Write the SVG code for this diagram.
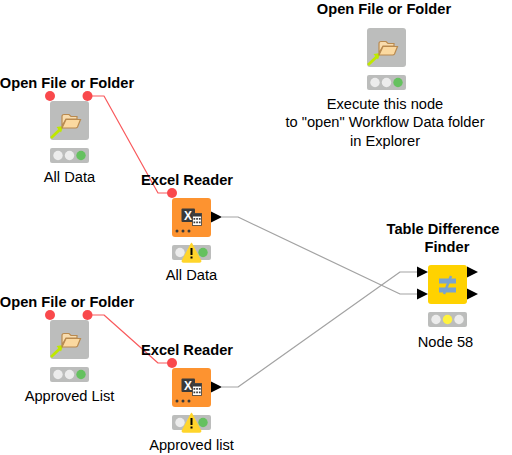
<svg xmlns="http://www.w3.org/2000/svg" xmlns:xlink="http://www.w3.org/1999/xlink" width="512" height="455" viewBox="0 0 512 455">
<style>
text{font-family:"Liberation Sans",Arial,sans-serif;font-size:14.67px;fill:#000;text-anchor:middle}
.t{font-weight:bold}
.gray{fill:#bcbdbc}
.orange{fill:#fd9330}
.yellow{fill:#ffd200}
.tl{fill:#bcbdbc}
.off{fill:#ececec}
.green{fill:#65c15f}
.on{fill:#fff23e}
.port{fill:#000}
.flow{fill:#f9494c}
.wire{fill:none;stroke-width:1.2;stroke-linejoin:round}
.red{stroke:#f9595c}
.grey{stroke:#a3a3a3}
</style>
<defs>
<g id="folder">
<path d="M1 37L10 28.500" stroke="#bfe800" stroke-width="2.800" fill="none"/>
<path d="M13.500 25L6.500 26L11 31.500Z" fill="#bfe800"/>
<path d="M12 25V15.500Q12 13.500 14 13.500H19L21 15.500H27V18H16Z" fill="#f8dcae" stroke="#b98a4f" stroke-width="1.200"/>
<path d="M12 27L16 18.500H30.500L27.500 26Q27 27 25.500 27Z" fill="#fbd9a0" stroke="#b98a4f" stroke-width="1.200"/>
</g>
<g id="excel">
<rect x="9.500" y="10.500" width="13.500" height="13.500" rx="1" fill="#3a3a3a"/>
<text x="16" y="22" style="font-size:12px;font-weight:bold;fill:#fff">X</text>
<rect x="20.500" y="15.500" width="9" height="12" fill="#fff" stroke="#3a3a3a" stroke-width="0.800"/>
<rect x="20.500" y="15.500" width="9" height="3" fill="#3a3a3a"/>
<path d="M21.500 20h1.700v1.700h-1.700zM24.200 20h1.700v1.700h-1.700zM26.900 20h1.700v1.700h-1.700zM21.500 23.500h1.700v1.700h-1.700zM24.200 23.500h1.700v1.700h-1.700zM26.900 23.500h1.700v1.700h-1.700z" fill="#3a3a3a"/>
<circle cx="5" cy="33" r="1.500" fill="#3a3a3a"/><circle cx="11" cy="33" r="1.500" fill="#3a3a3a"/><circle cx="17" cy="33" r="1.500" fill="#3a3a3a"/>
</g>
<g id="tlg">
<rect class="tl" width="39" height="15" rx="2"/>
<circle class="off" cx="8" cy="7.500" r="4.700"/><circle class="off" cx="19.500" cy="7.500" r="4.700"/><circle class="green" cx="31" cy="7.500" r="4.700"/>
</g>
<g id="warn">
<path d="M12.500 -1.500L21.500 15.500Q22 17 20.500 17H4.500Q3 17 3.500 15.500Z" fill="#ffd52b" stroke="#ffd52b" stroke-width="1.500" stroke-linejoin="round"/>
<rect x="11.500" y="3" width="2" height="7" fill="#000"/><rect x="11.500" y="11.500" width="2" height="2" fill="#000"/>
</g>
</defs>
<g id="connectors">
<path class="wire red" d="M88 96H104L158 193H172"/>
<path class="wire red" d="M88 315H104L158 363H172"/>
<path class="wire grey" d="M222 217H238L400 294H417"/>
<path class="wire grey" d="M222 387H238L400 272H417"/>
</g>
<g id="node-open-top">
<text class="t" x="384" y="14">Open File or Folder</text>
<rect class="gray" x="367" y="28" width="39" height="39" rx="3"/>
<use xlink:href="#folder" x="367" y="28"/>
<use xlink:href="#tlg" x="367" y="75"/>
<text x="385" y="109">Execute this node</text>
<text x="385" y="127">to "open" Workflow Data folder</text>
<text x="385" y="146">in Explorer</text>
</g>
<g id="node-open-all">
<text class="t" x="67" y="88">Open File or Folder</text>
<circle class="flow" cx="50" cy="96" r="5"/><circle class="flow" cx="87.500" cy="96" r="5"/>
<rect class="gray" x="50" y="101" width="39" height="39" rx="3"/>
<use xlink:href="#folder" x="50" y="101"/>
<use xlink:href="#tlg" x="50" y="148"/>
<text x="69.500" y="182">All Data</text>
</g>
<g id="node-open-approved">
<text class="t" x="67" y="307">Open File or Folder</text>
<circle class="flow" cx="50" cy="315" r="5"/><circle class="flow" cx="87.500" cy="315" r="5"/>
<rect class="gray" x="50" y="320" width="39" height="39" rx="3"/>
<use xlink:href="#folder" x="50" y="320"/>
<use xlink:href="#tlg" x="50" y="367"/>
<text x="69.500" y="401">Approved List</text>
</g>
<g id="node-excel-all">
<text class="t" x="187" y="185">Excel Reader</text>
<circle class="flow" cx="172" cy="193" r="5"/>
<rect class="orange" x="172" y="198" width="39" height="39" rx="3"/>
<use xlink:href="#excel" x="172" y="198"/>
<path class="port" d="M211 211.500L222 217L211 222.500Z"/>
<use xlink:href="#tlg" x="172" y="245"/>
<use xlink:href="#warn" x="179" y="245"/>
<text x="191.500" y="280">All Data</text>
</g>
<g id="node-excel-approved">
<text class="t" x="187" y="355">Excel Reader</text>
<circle class="flow" cx="172" cy="363" r="5"/>
<rect class="orange" x="172" y="368" width="39" height="39" rx="3"/>
<use xlink:href="#excel" x="172" y="368"/>
<path class="port" d="M211 381.500L222 387L211 392.500Z"/>
<use xlink:href="#tlg" x="172" y="415"/>
<use xlink:href="#warn" x="179" y="415"/>
<text x="191.500" y="450">Approved list</text>
</g>
<g id="node-diff">
<text class="t" x="443" y="234">Table Difference</text>
<text class="t" x="447" y="252">Finder</text>
<rect class="yellow" x="428" y="265" width="39" height="39" rx="3"/>
<path d="M439 281H456M439 290H456" stroke="#7ba3cf" stroke-width="5" fill="none"/>
<path d="M451 276L444 294" stroke="#7ba3cf" stroke-width="2.500" fill="none"/>
<path class="port" d="M417 266.500L428 272L417 277.500Z"/>
<path class="port" d="M417 288.500L428 294L417 299.500Z"/>
<path class="port" d="M467 266.500L478 272L467 277.500Z"/>
<path class="port" d="M467 288.500L478 294L467 299.500Z"/>
<rect class="tl" x="428" y="312" width="39" height="15" rx="2"/>
<circle class="off" cx="436" cy="319.500" r="4.700"/><circle class="on" cx="447.500" cy="319.500" r="4.700"/><circle class="off" cx="459" cy="319.500" r="4.700"/>
<text x="445.500" y="347">Node 58</text>
</g>
</svg>
